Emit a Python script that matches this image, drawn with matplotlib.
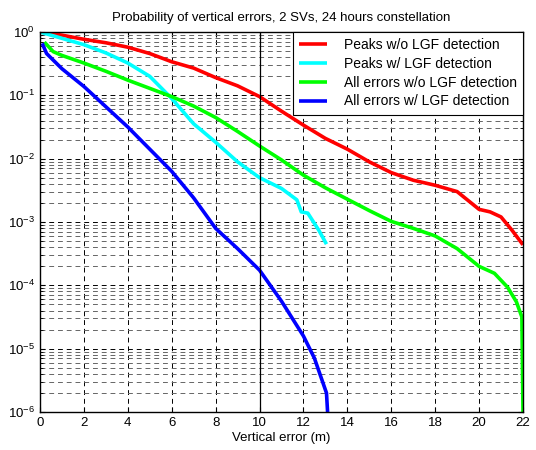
import numpy as np
import matplotlib
matplotlib.use("Agg")
import matplotlib.pyplot as plt
from matplotlib.ticker import LogLocator

plt.rcParams['font.family'] = 'Liberation Sans'
plt.rcParams['mathtext.fontset'] = 'custom'
plt.rcParams['mathtext.rm'] = 'Liberation Sans'

# curves, log10 of probability
x_peaks_nodet = [0, 1, 2, 3, 4, 5, 6, 7, 8, 9, 10, 11, 12, 13, 14, 15, 16,
                 17, 18, 19, 20, 20.5, 21, 21.5, 22]
lp_peaks_nodet = [0, -0.05, -0.115, -0.17, -0.24, -0.34, -0.47, -0.57, -0.72,
                  -0.85, -1.02, -1.25, -1.47, -1.68, -1.85, -2.05, -2.22,
                  -2.34, -2.42, -2.52, -2.8, -2.84, -2.92, -3.13, -3.36]

x_peaks_det = [0, 1, 2, 3, 4, 5, 6, 7, 8, 9, 10, 11, 11.7, 11.9, 12.2, 12.7,
               13.05]
lp_peaks_det = [0, -0.1, -0.2, -0.33, -0.49, -0.7, -1.05, -1.45, -1.74,
                -2.05, -2.3, -2.47, -2.65, -2.84, -2.86, -3.13, -3.35]

x_all_nodet = [0.2, 0.6, 1, 2, 3, 4, 5, 6, 7, 8, 9, 10, 11, 12, 13, 14, 15,
               16, 17, 18, 19, 20, 20.7, 21.3, 21.7, 21.95, 22.0]
lp_all_nodet = [-0.16, -0.31, -0.37, -0.49, -0.62, -0.76, -0.89, -1.02,
                -1.17, -1.35, -1.57, -1.8, -2.02, -2.26, -2.46, -2.64, -2.82,
                -2.99, -3.1, -3.22, -3.42, -3.7, -3.81, -4.03, -4.26, -4.5, -6]

x_all_det = [0.1, 0.3, 1, 2, 3, 4, 5, 6, 7, 8, 9, 10, 11, 12, 12.5, 13.05,
             13.1]
lp_all_det = [-0.18, -0.34, -0.58, -0.86, -1.18, -1.5, -1.85, -2.2, -2.62,
              -3.1, -3.42, -3.76, -4.25, -4.8, -5.15, -5.7, -6]

labels = ["Peaks w/o LGF detection", "Peaks w/ LGF detection",
          "All errors w/o LGF detection", "All errors w/ LGF detection"]
colors = ["#ff0000", "#00ffff", "#00ff00", "#0000ff"]

fig = plt.figure(figsize=(5.36, 4.5), dpi=100)
ax = fig.add_axes([0.0746, 0.0844, 0.9011, 0.8445])

series = [(x_peaks_nodet, lp_peaks_nodet), (x_peaks_det, lp_peaks_det),
          (x_all_nodet, lp_all_nodet), (x_all_det, lp_all_det)]
for (xs, lp), lab, col in zip(series, labels, colors):
    ax.semilogy(xs, 10.0 ** np.array(lp), color=col, lw=2.6, label=lab,
                solid_capstyle="butt")

ax.set_xlim(0, 22)
ax.set_ylim(1e-6, 1)
ax.set_xticks(np.arange(0, 23, 2))
ax.yaxis.set_major_locator(LogLocator(base=10, numticks=10))
ax.yaxis.set_minor_locator(LogLocator(base=10, subs=np.arange(2, 10), numticks=10))

ax.grid(True, which="major", axis="both", color="k", ls=(0, (5, 4)), lw=0.7)
ax.grid(True, which="minor", axis="y", color="#666666", ls=(0, (5, 4)), lw=0.7)
ax.axvline(10, color="k", lw=0.9)
ax.set_axisbelow(True)

ax.tick_params(which="both", direction="in", top=True, right=True,
               labelsize=9.5)
for s in ax.spines.values():
    s.set_linewidth(1.0)

ax.set_xlabel("Vertical error (m)", fontsize=9.5, labelpad=2)
ax.set_title("Probability of vertical errors, 2 SVs, 24 hours constellation",
             fontsize=9.5, pad=8)

leg = ax.legend(loc="upper right", fontsize=10, frameon=True, fancybox=False,
                edgecolor="k", framealpha=1, borderaxespad=0, handlelength=2.0,
                handletextpad=1.2, labelspacing=0.34, borderpad=0.45)
leg.get_frame().set_linewidth(0.8)

fig.savefig("out.png", dpi=100)
